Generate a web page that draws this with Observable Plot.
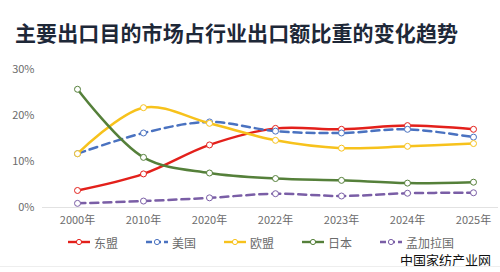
<!DOCTYPE html>
<html>
<head>
<meta charset="utf-8">
<script src="https://cdn.jsdelivr.net/npm/d3@7"></script>
<script src="https://cdn.jsdelivr.net/npm/@observablehq/plot@0.6"></script>
<style>
  html, body { margin: 0; padding: 0; background: #fff; }
  body { width: 500px; height: 272px; overflow: hidden; position: relative;
         font-family: "Noto Sans CJK SC", "Noto Sans", sans-serif; }
  #title { position: absolute; left: 15px; top: 17px; font-size: 21px; font-weight: 700;
           color: #1e2838; letter-spacing: 0.1px; line-height: 30px; white-space: nowrap; }
  #chart { position: absolute; left: 0; top: 52px; }
  #legend { position: absolute; left: 0; top: 232px; width: 500px; height: 20px;
            font-size: 12px; color: #6b6b6b; }
  #legend .item { position: absolute; top: 0; display: flex; align-items: center; height: 20px; }
  #legend svg { margin-right: 4px; }
  #source { position: absolute; left: 400px; top: 250px; font-size: 13px; color: #111;
            line-height: 20px; white-space: nowrap; }
  #rule { position: absolute; left: 0; top: 266px; width: 500px; height: 1px; background: #eeeeee; }
</style>
</head>
<body>
<div id="title">主要出口目的市场占行业出口额比重的变化趋势</div>
<div id="chart"></div>
<div id="legend"></div>
<div id="source">中国家纺产业网</div>
<div id="rule"></div>
<script>
// 年份（横轴类目）
const years = ["2000年", "2010年", "2020年", "2022年", "2023年", "2024年", "2025年"];

// 各市场占行业出口额比重（%）
const asean      = [3.7, 7.3, 13.6, 17.2, 17.0, 17.8, 17.0];
const usa        = [11.7, 16.2, 18.6, 16.6, 16.2, 17.0, 15.3];
const eu         = [11.7, 21.7, 18.3, 14.6, 12.9, 13.3, 13.9];
const japan      = [25.7, 10.9, 7.5, 6.3, 5.9, 5.3, 5.5];
const bangladesh = [0.9, 1.4, 2.1, 3.0, 2.5, 3.1, 3.2];

const seriesNames  = ["东盟", "美国", "欧盟", "日本", "孟加拉国"];
const seriesValues = [asean, usa, eu, japan, bangladesh];
const seriesColors = ["#e3201b", "#4a72c0", "#f7c21c", "#55803a", "#7a5ea6"];
const seriesDashed = [false, true, false, false, true];

const yTicks = [0, 10, 20, 30];

const rows = seriesNames.flatMap((name, i) =>
  years.map((year, j) => ({ name, year, value: seriesValues[i][j] / 100 }))
);

const lineMarks = seriesNames.flatMap((name, i) => {
  const data = rows.filter(d => d.name === name);
  return [
    Plot.line(data, {
      x: "year", y: "value", stroke: seriesColors[i], strokeWidth: 2.5,
      curve: "catmull-rom", strokeDasharray: seriesDashed[i] ? "8,5" : null
    }),
    Plot.dot(data, {
      x: "year", y: "value", r: 3, fill: "white", stroke: seriesColors[i], strokeWidth: 1
    })
  ];
});

const chart = Plot.plot({
  width: 500,
  height: 180,
  marginLeft: 42,
  marginRight: 2,
  marginTop: 17,
  marginBottom: 25,
  style: { fontFamily: "\"Noto Sans CJK SC\", \"Noto Sans\", sans-serif", fontSize: "11px", color: "#6b6b6b", background: "transparent" },
  x: { type: "point", domain: years, padding: 0.42, align: 0.59, label: null },
  y: { domain: [0, 0.3], label: null },
  marks: [
    Plot.ruleY([0], { stroke: "#e2e2e2", strokeWidth: 1 }),
    Plot.axisY(yTicks.map(t => t / 100), { tickSize: 0, tickPadding: 8, tickFormat: d3.format(".0%"), fill: "#6b6b6b", label: null }),
    Plot.axisX({ tickSize: 0, tickPadding: 9, fill: "#6b6b6b", label: null }),
    ...lineMarks
  ]
});
document.getElementById("chart").appendChild(chart);

// 图例
const legendX = [68, 146, 224, 302, 380];
const legend = document.getElementById("legend");
seriesNames.forEach((name, i) => {
  const item = document.createElement("div");
  item.className = "item";
  item.style.left = legendX[i] + "px";
  const dash = seriesDashed[i] ? ' stroke-dasharray="6,3"' : "";
  item.innerHTML =
    `<svg width="22" height="8"><line x1="0" x2="22" y1="4" y2="4" stroke="${seriesColors[i]}" stroke-width="2.4"${dash}/>` +
    `<circle cx="11" cy="4" r="2.6" fill="white" stroke="${seriesColors[i]}" stroke-width="1"/></svg>` +
    `<span>${name}</span>`;
  legend.appendChild(item);
});
</script>
</body>
</html>
